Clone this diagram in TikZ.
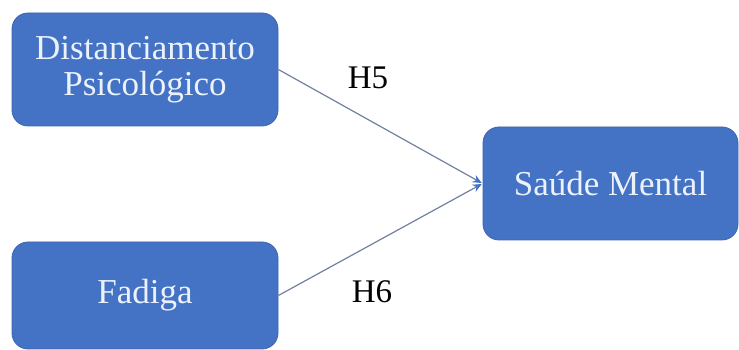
\documentclass[tikz,border=0pt]{standalone}
\usepackage{fontspec}
\setmainfont{Liberation Serif}
\usetikzlibrary{arrows.meta}
\definecolor{boxblue}{RGB}{68,114,196}
\definecolor{boxedge}{RGB}{60,100,175}
\definecolor{linkgray}{RGB}{112,128,160}
\definecolor{boxtext}{RGB}{236,242,252}
\begin{document}
\begin{tikzpicture}[x=1pt,y=1pt,
  varbox/.style={draw=boxedge,fill=boxblue,rounded corners=16pt,line width=0.8pt,
    text=boxtext,align=center,inner sep=0pt,
    font=\fontsize{35}{35}\selectfont},
  link/.style={draw=linkgray,line width=1.2pt,
    -{Stealth[length=9pt,width=8pt,color=boxblue]},shorten >=1pt},
  hlabel/.style={text=black,font=\fontsize{33}{33}\selectfont,inner sep=0pt}]
  \useasboundingbox (0,0) rectangle (739,350);
  % constructs
  \node[varbox,minimum width=266pt,minimum height=113pt] (dist) at (145,280.5)
    {Distanciamento\\[1pt]Psicológico};
  \node[varbox,minimum width=266pt,minimum height=107pt] (fad) at (145,54.5) {Fadiga};
  \node[varbox,minimum width=255pt,minimum height=113pt] (saude) at (610.5,166.5) {Saúde Mental};
  % hypotheses
  \draw[link] (dist.east) -- (saude.west);
  \draw[link] (fad.east) -- (saude.west);
  \node[hlabel] (h5) at (368,272) {H5};
  \node[hlabel] (h6) at (372,58) {H6};
\end{tikzpicture}
\end{document}
